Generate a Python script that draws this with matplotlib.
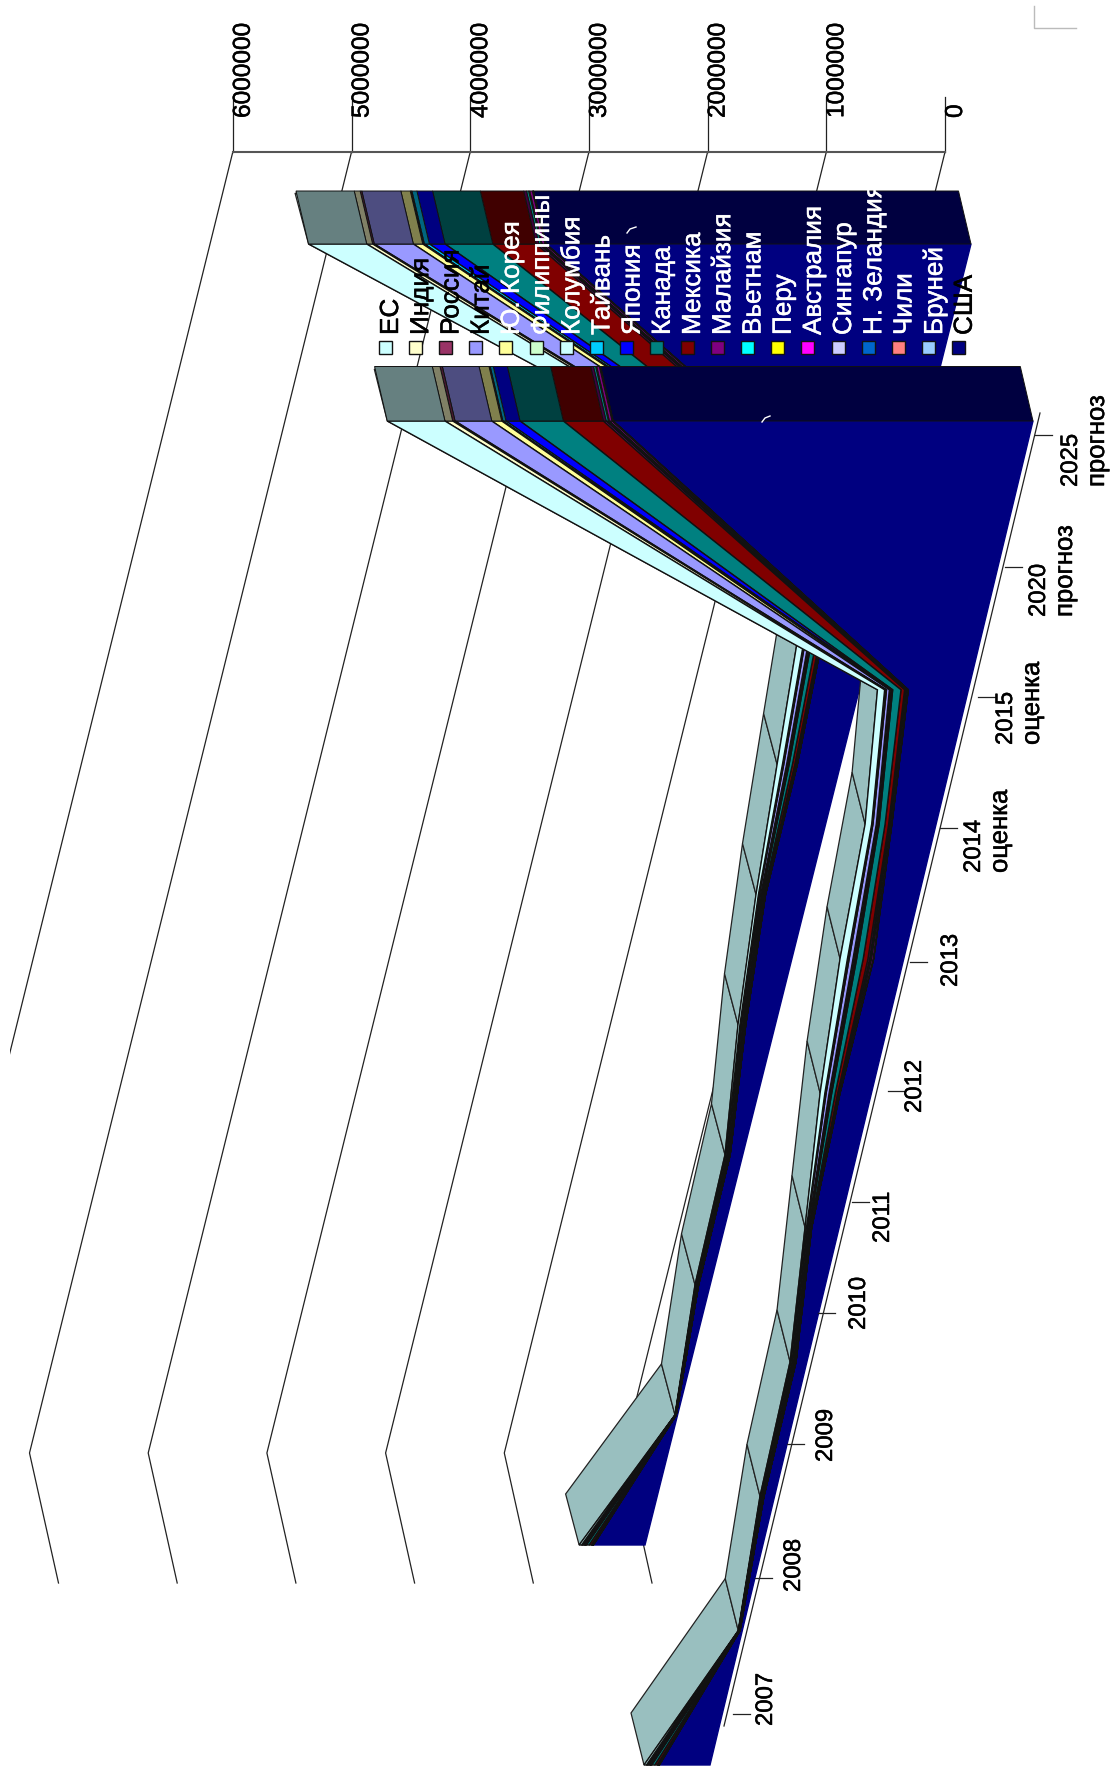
#!/usr/bin/env python3
"""Stacked 3D-look area chart, turned on its side: two ribbons of 20 economies."""

import matplotlib
matplotlib.use("Agg")
import matplotlib.patheffects as pe
import matplotlib.pyplot as plt
from matplotlib.colors import to_rgb
from matplotlib.patches import Rectangle
from matplotlib.transforms import Affine2D
import numpy as np

plt.rcParams["font.family"] = ["Liberation Sans", "DejaVu Sans"]

YEARS = ["2007", "2008", "2009", "2010", "2011", "2012", "2013",
         "2014", "2015", "2020", "2025"]
YEAR_NOTES = ["", "", "", "", "", "", "", "оценка", "оценка", "прогноз", "прогноз"]
AXIS_TICKS = [0, 1000000, 2000000, 3000000, 4000000, 5000000, 6000000]

NAMES = ["ЕС", "Индия", "Россия", "Китай", "Ю. Корея", "Филиппины", "Колумбия",
         "Тайвань", "Япония", "Канада", "Мексика", "Малайзия", "Вьетнам", "Перу",
         "Австралия", "Сингапур", "Н. Зеландия", "Чили", "Бруней", "США"]
COLOURS = ["#CCFFFF", "#FFFFCC", "#993366", "#9999FF", "#FFFF99", "#CCFFCC",
           "#CCFFFF", "#00CCFF", "#0000FF", "#008080", "#800000", "#800080",
           "#00FFFF", "#FFFF00", "#FF00FF", "#CCCCFF", "#0066CC", "#FF8080",
           "#99CCFF", "#000080"]

# values in thousands
FRONT_EC = [20, 2, 6, 10, 12, 40, 62, 55, 60, 273, 486]
FRONT_IN = [5, 1, 2, 2, 2, 5, 7, 5, 8, 36, 65]
FRONT_RU = [8, 1, 2, 3, 3, 6, 8, 6, 8, 14, 20]
FRONT_CN = [12, 2, 5, 8, 9, 25, 32, 28, 24, 166, 309]
FRONT_KR = [6, 1, 2, 3, 3, 7, 9, 7, 8, 46, 84]
FRONT_PH = [2, 0, 1, 1, 1, 3, 4, 3, 4, 5, 5]
FRONT_CO = [2, 0, 1, 1, 1, 2, 3, 2, 4, 5, 5]
FRONT_TW = [4, 0, 1, 2, 2, 4, 6, 5, 6, 16, 26]
FRONT_JP = [6, 1, 2, 3, 3, 6, 9, 7, 6, 62, 118]
FRONT_CA = [25, 2, 4, 7, 8, 30, 55, 50, 70, 218, 365]
FRONT_MX = [20, 2, 3, 4, 5, 20, 40, 30, 30, 184, 337]
FRONT_MY = [5, 1, 1, 2, 2, 6, 14, 9, 10, 17, 24]
FRONT_VN = [3, 0, 1, 1, 1, 4, 11, 7, 8, 13, 18]
FRONT_PE = [1, 0, 0, 0, 1, 2, 4, 2, 3, 6, 9]
FRONT_AU = [6, 1, 2, 2, 2, 5, 14, 6, 6, 14, 22]
FRONT_SG = [2, 0, 0, 1, 1, 1, 3, 1, 2, 4, 5]
FRONT_NZ = [1, 0, 0, 0, 0, 1, 1, 1, 1, 2, 3]
FRONT_CL = [1, 0, 0, 0, 0, 1, 1, 1, 1, 2, 2]
FRONT_BN = [0, 0, 0, 0, 0, 0, 1, 0, 1, 1, 1]
FRONT_US = [427, 20, 90, 92, 232, 265, 253, 373, 506, 2021, 3536]

BACK_EC = [20, 2, 6, 9, 16, 20, 45, 56, 30, 260, 490]
BACK_IN = [4, 0, 2, 2, 3, 3, 5, 6, 10, 30, 50]
BACK_RU = [7, 1, 2, 3, 4, 4, 6, 6, 20, 17, 14]
BACK_CN = [11, 1, 4, 7, 10, 12, 24, 28, 80, 204, 329]
BACK_KR = [5, 1, 2, 2, 3, 4, 6, 7, 30, 54, 79]
BACK_PH = [2, 0, 1, 1, 1, 2, 3, 3, 5, 6, 7]
BACK_CO = [2, 0, 1, 1, 1, 1, 2, 2, 5, 6, 7]
BACK_TW = [4, 0, 1, 2, 2, 3, 4, 5, 10, 26, 42]
BACK_JP = [6, 1, 2, 2, 3, 3, 6, 8, 15, 73, 132]
BACK_CA = [23, 1, 3, 5, 8, 10, 28, 40, 30, 216, 402]
BACK_MX = [18, 2, 3, 4, 6, 8, 20, 28, 120, 242, 365]
BACK_MY = [5, 0, 1, 2, 2, 3, 6, 7, 20, 22, 24]
BACK_VN = [3, 0, 0, 1, 2, 2, 4, 5, 15, 16, 18]
BACK_PE = [1, 0, 0, 0, 1, 1, 2, 2, 5, 7, 9]
BACK_AU = [6, 1, 2, 2, 2, 3, 7, 6, 20, 21, 22]
BACK_SG = [1, 0, 0, 0, 1, 1, 1, 1, 2, 3, 5]
BACK_NZ = [1, 0, 0, 0, 0, 0, 1, 0, 2, 2, 3]
BACK_CL = [1, 0, 0, 0, 0, 0, 0, 0, 2, 2, 2]
BACK_BN = [0, 0, 0, 0, 0, 0, 0, 0, 1, 1, 1]
BACK_US = [435, 12, 98, 107, 250, 358, 365, 420, 538, 2059, 3580]

FRONT = [FRONT_EC, FRONT_IN, FRONT_RU, FRONT_CN, FRONT_KR, FRONT_PH, FRONT_CO,
         FRONT_TW, FRONT_JP, FRONT_CA, FRONT_MX, FRONT_MY, FRONT_VN, FRONT_PE,
         FRONT_AU, FRONT_SG, FRONT_NZ, FRONT_CL, FRONT_BN, FRONT_US]
BACK = [BACK_EC, BACK_IN, BACK_RU, BACK_CN, BACK_KR, BACK_PH, BACK_CO,
        BACK_TW, BACK_JP, BACK_CA, BACK_MX, BACK_MY, BACK_VN, BACK_PE,
        BACK_AU, BACK_SG, BACK_NZ, BACK_CL, BACK_BN, BACK_US]

# (category, thousands) -> pixel; the value axis runs along screen x
PX_PER_THOUSAND = 0.1187
FRONT_MAP = Affine2D.from_values(32.3, -134.4, -PX_PER_THOUSAND, 0, 710, 1765)
BACK_MAP = Affine2D.from_values(32.6, -130.1, -PX_PER_THOUSAND, 0, 645, 1545)

# hand placed, the source chart spaces these unevenly
TICK_X = [733, 755, 787, 818, 852, 888, 910, 940, 978, 1005, 1035]
TICK_Y = [1714, 1578, 1444, 1313, 1202, 1091, 962, 828, 697, 567, 435]
LABEL_X = [755, 783, 815, 848, 872, 904, 940, 963, 995, 1028, 1060]
LABEL_Y = [1726, 1592, 1462, 1330, 1243, 1113, 987, 873, 745, 617, 487]


def shade(colour, k):
    return tuple(c * k for c in to_rgb(colour))


def heavy(colour, width=0.35):
    return [pe.withStroke(linewidth=width, foreground=colour)]


def draw_ribbon(ax, rows, pmap, depth, cap_depth):
    t = np.arange(len(YEARS))
    rows = np.array(rows[::-1], dtype=float)   # US first, bottom of the stack
    cols = COLOURS[::-1]
    tops = rows.cumsum(axis=0)
    lows = tops - rows

    # top surface of the whole stack, the face is painted over it afterwards
    edge = pmap.transform(np.c_[t, tops[-1]])
    for i in t[:-1]:
        quad = np.array([edge[i], edge[i + 1], edge[i + 1] + depth, edge[i] + depth])
        ax.fill(quad[:, 0], quad[:, 1], facecolor=shade(cols[-1], 0.75),
                edgecolor="#222222", linewidth=0.9, zorder=1)

    for k, col in enumerate(cols):
        hi = pmap.transform(np.c_[t, tops[k]])
        lo = pmap.transform(np.c_[t, lows[k]])[::-1]
        poly = np.vstack([hi, lo])
        ax.fill(poly[:, 0], poly[:, 1], facecolor=col,
                edgecolor=col if k == 0 else "#111111", linewidth=1.0, zorder=1)

        # end cap at the last category
        a, b = hi[-1], lo[0]
        quad = np.array([a, b, b + cap_depth, a + cap_depth])
        ax.fill(quad[:, 0], quad[:, 1], facecolor=shade(col, 0.5),
                edgecolor="#111111", linewidth=0.7, zorder=1)


def main():
    fig = plt.figure(figsize=(11.13, 17.76), dpi=100)
    ax = fig.add_axes([0, 0, 1, 1])
    ax.set_xlim(0, 1113)
    ax.set_ylim(1776, 0)
    ax.axis("off")

    # value gridlines: wall edge, floor kink, floor end
    clip = Rectangle((9.5, 0), 1200, 1776, transform=ax.transData)
    for v in AXIS_TICKS:
        dx = v / 1000 * PX_PER_THOUSAND
        line, = ax.plot(np.array([945, 623, 652]) - dx, [152, 1453, 1583],
                        color="#222222", lw=0.9, zorder=0.5)
        line.set_clip_path(clip)
        ax.plot([945 - dx, 945 - dx], [152, 97], color="#222222", lw=0.9, zorder=0.5)
        ax.text(945 - dx, 118, str(v), rotation=90, ha="left", va="bottom",
                fontsize=17.6, color="black", zorder=4, path_effects=heavy("black"))
    ax.plot([945 - 6000 * PX_PER_THOUSAND, 945], [152, 152], color="#555555",
            lw=1.5, zorder=0.6)

    draw_ribbon(ax, BACK, BACK_MAP, np.array([-13.5, -51]), np.array([-12.5, -53]))
    draw_ribbon(ax, FRONT, FRONT_MAP, np.array([-13, -52]), np.array([-12.7, -54.5]))

    # category axis
    ax.plot([724, 1040], [1726, 413], color="#222222", lw=0.9, zorder=3)
    for x, y, lx, ly, year, note in zip(TICK_X, TICK_Y, LABEL_X, LABEL_Y, YEARS, YEAR_NOTES):
        ax.plot([x, x + 17], [y, y], color="#222222", lw=0.9, zorder=3)
        ax.text(lx, ly, year, rotation=90, ha="left", va="bottom", fontsize=17.2,
                zorder=4, path_effects=heavy("black"))
        if note:
            ax.text(lx + 25, ly, note, rotation=90, ha="left", va="bottom",
                    fontsize=18.5, zorder=4, path_effects=heavy("black"))

    # legend sits over the chart
    for i, (name, col) in enumerate(zip(NAMES, COLOURS)):
        cx = 385 + i * 30.2
        ax.add_patch(Rectangle((cx - 6.5, 341.5), 13, 13, facecolor=col,
                               edgecolor="#111111", lw=1.0, zorder=5))
        txt = "black" if i < 4 or i == 19 else "white"
        ax.text(cx - 6, 335, name, rotation=90, ha="left", va="bottom",
                fontsize=18.8, color=txt, zorder=5, path_effects=heavy(txt))

    # stray glyph bits and the corner mark in the source
    ax.plot([762, 765, 770], [422, 418, 416], color="white", lw=1.0, zorder=4)
    ax.plot([627, 630, 636], [233, 229, 227], color="white", lw=1.0, zorder=6)
    ax.plot([1034, 1034, 1076], [6, 28, 28], color="#BBBBBB", lw=1.0, zorder=1)

    fig.savefig("out.png", dpi=100)
    plt.close(fig)


if __name__ == "__main__":
    main()
